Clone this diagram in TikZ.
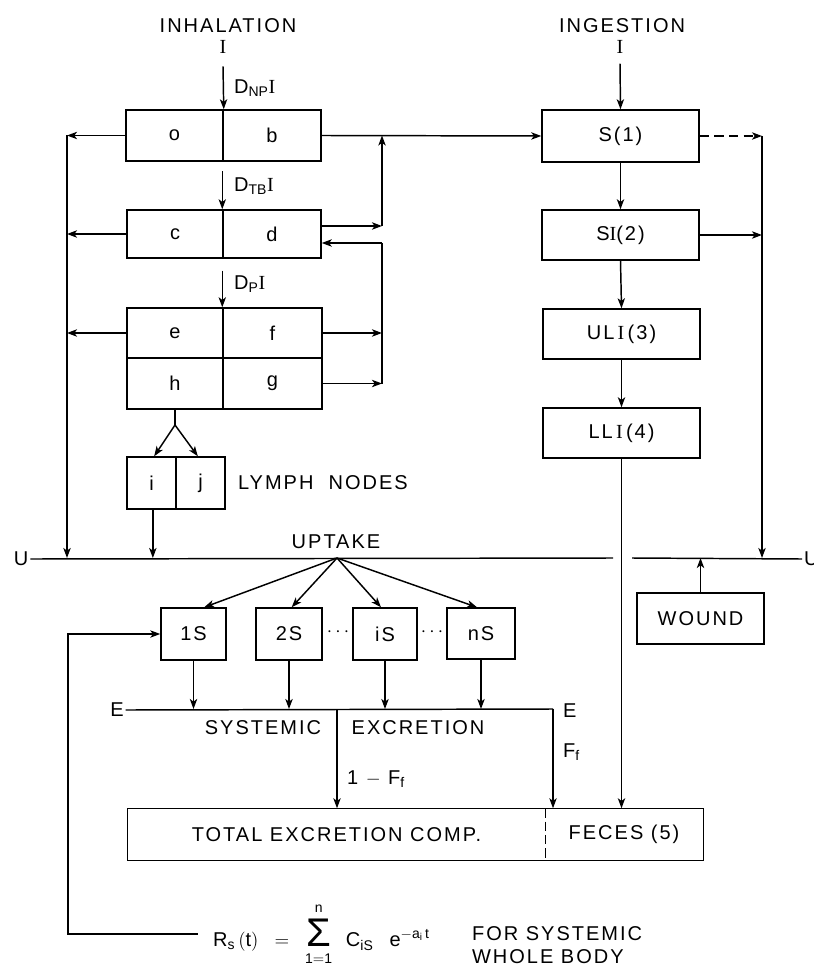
\documentclass[tikz,border=0pt]{standalone}
\usepackage{fontspec}
\setmainfont[LetterSpace=10]{Liberation Sans}
\setsansfont[LetterSpace=10]{Liberation Sans}
\newfontfamily\serI{Liberation Serif}
\newfontfamily\sigfont{Liberation Sans}
\usetikzlibrary{arrows.meta}
\newcommand\sI{{\serI I}}
\newcommand\bigsig{\mathop{\mbox{\sigfont\fontsize{30}{30}\selectfont Σ}}}
\newcommand\cell[6]{\node[box, minimum width={(#4-#2)*0.75pt}, minimum height={(#5-#3)*0.75pt}] (#1) at ({(#2+#4)/2},{(#3+#5)/2}) {#6};}
\begin{document}
\begin{tikzpicture}[x=0.75pt,y=-0.75pt, line width=1.1pt,
  arr/.style={-{Stealth[length=7.5pt,width=5.5pt,inset=2pt]}},
  lbl/.style={font=\fontsize{15}{17}\selectfont, inner sep=1pt},
  box/.style={draw, inner sep=0pt, font=\fontsize{15}{17}\selectfont}]
\useasboundingbox (0,0) rectangle (813,969);

% ---- inhalation column
\node[lbl] (inh) at (228,26) {INHALATION};
\node[lbl] (inI) at (223,47) {\sI};
\cell{a}{126}{110}{223}{161}{o}
\cell{b}{223}{110}{321}{161}{b}
\cell{c}{127}{210}{223}{258}{c}
\cell{d}{223}{210}{321}{258}{d}
\cell{e}{127}{308}{223}{358}{e}
\cell{f}{223}{308}{322}{358}{f}
\cell{h}{127}{358}{223}{409}{h}
\cell{g}{223}{358}{322}{409}{g}
\cell{i}{127}{457}{176}{509}{i}
\cell{j}{176}{457}{225}{509}{j}
\node[lbl, anchor=west] (lymph) at (236,483) {LYMPH\ \ NODES};

\draw[arr] ([yshift=-8pt]inI.south) -- (a.north east);
\node[lbl, anchor=west] (dnp) at (232,88) {$\mathrm{D_{NP}}$\sI};
\draw[arr] ([yshift=-7pt]b.south west) -- (d.north west);
\node[lbl, anchor=west] (dtb) at (232,186) {$\mathrm{D_{TB}}$\sI};
\draw[arr] ([yshift=-9pt]d.south west) -- (f.north west);
\node[lbl, anchor=west] (dp) at (232,284) {$\mathrm{D_{P}}$\sI};

% left collector
\coordinate (Lx) at (67,558);
\draw[arr] (a.west) -- (a.west -| Lx);
\draw[arr] (c.west) -- (c.west -| Lx);
\draw[arr] (e.west) -- (e.west -| Lx);
\draw[arr] (a.west -| Lx) -- (Lx);

% right loop
\coordinate (R1) at (382,226);
\coordinate (R2) at (382,243);
\draw[arr] (d.east |- R1) -- (R1);
\draw[arr] (R1) -- (R1 |- b.east);
\draw[arr] (R2) -- (d.east |- R2);
\draw (R2) -- (R2 |- g.east);
\draw[arr] (f.east) -- (f.east -| R2);
\draw[arr] (g.east) -- (g.east -| R2);

% lymph fork
\coordinate (fork) at (175,425);
\draw (h.south) -- (fork);
\draw[arr] (fork) -- ([xshift=2pt]i.north);
\draw[arr] (fork) -- ([xshift=-2pt]j.north);
\draw[arr] ([xshift=1pt]i.south) -- ([xshift=1pt]i.south |- Lx);

% ---- ingestion column
\node[lbl] (ing) at (622,26) {INGESTION};
\node[lbl] (ingI) at (620,47) {\sI};
\cell{S1}{542}{110}{699}{162}{S(1)}
\cell{SI2}{542}{210}{699}{260}{S\sI(2)}
\cell{ULI}{543}{309}{700}{359}{UL\,\sI\,(3)}
\cell{LLI}{543}{408}{700}{458}{LL\,\sI\,(4)}
\draw[arr] ([yshift=-6pt]ingI.south) -- (S1.north);
\draw[arr] (b.east) -- (S1.west);
\draw[arr] (S1.south) -- (SI2.north);
\draw[arr] (SI2.south) -- (ULI.north);
\draw[arr] (ULI.south) -- (LLI.north);

\coordinate (Rr) at (762,136);
\draw[arr, dash pattern=on 7pt off 4pt] (S1.east) -- (Rr);
\draw[arr] (SI2.east) -- (SI2.east -| Rr);
\draw[arr] (Rr) -- (Rr |- Lx);

% ---- uptake line
\node[lbl] (U1) at (21,559) {U};
\coordinate (Ug1) at (613,558);
\coordinate (Ug2) at (632,558);
\draw (U1.east) -- (Ug1);
\node[lbl, anchor=west] (U2) at (802,559) {U};
\draw (Ug2) -- (U2.west);
\node[lbl] (upt) at (336,542) {UPTAKE};
\coordinate (fan) at (337,558);

\cell{wound}{637}{593}{764}{644}{WOUND}
\draw[arr] (wound.north) -- (wound.north |- Lx);

% ---- systemic compartments
\cell{s1}{161}{608}{226}{660}{1S}
\cell{s2}{256}{608}{322}{660}{2S}
\cell{si}{353}{608}{417}{660}{iS}
\cell{sn}{447}{608}{515}{659}{nS}
\node[lbl] (dots1) at (338,632) {$\cdots$};
\node[lbl] (dots2) at (432,632) {$\cdots$};
\draw[arr] (fan) -- ([xshift=8pt]s1.north);
\draw[arr] (fan) -- ([xshift=2pt]s2.north);
\draw[arr] (fan) -- ([xshift=-3pt]si.north);
\draw[arr] (fan) -- ([xshift=-3pt]sn.north);

% ---- excretion line
\node[lbl] (E1) at (117,710) {E};
\coordinate (Eend) at (553,709);
\coordinate (Emid) at (337,709);
\draw (E1.east) -- (Eend);
\draw[arr] (s1.south) -- (s1.south |- Eend);
\draw[arr] (s2.south) -- (s2.south |- Eend);
\draw[arr] (si.south) -- (si.south |- Eend);
\draw[arr] (sn.south) -- (sn.south |- Eend);
\node[lbl] (sys) at (263,728) {SYSTEMIC};
\node[lbl] (exc) at (418,728) {EXCRETION};
\node[lbl, anchor=west] (E2) at (561,711) {E};
\node[lbl, anchor=west] (Ff) at (561,752) {$\mathrm{F_f}$};
\node[lbl, anchor=west] (omf) at (345,779) {1 $-$ $\mathrm{F_f}$};

% ---- total excretion / feces
\node[lbl, minimum width={(545-128)*0.75pt}, minimum height={(860-809)*0.75pt}, inner sep=0pt] (tot) at ({(128+545)/2},{(809+860)/2}) {TOTAL EXCRETION COMP.};
\node[lbl, minimum width={(703-545)*0.75pt}, minimum height={(860-809)*0.75pt}, inner sep=0pt] (fec) at ({(545+703)/2},{(809+860)/2}) {FECES (5)};
\draw (tot.north east) -- (tot.north west) -- (tot.south west) -- (tot.south east);
\draw (fec.north west) -- (fec.north east) -- (fec.south east) -- (fec.south west);
\draw[dash pattern=on 7pt off 3pt] (tot.north east) -- (tot.south east);
\draw[arr] (Emid) -- (Emid |- tot.north);
\draw[arr] (Eend) -- (Eend |- fec.north);
\draw[arr] (LLI.south) -- (LLI.south |- fec.north);

% ---- retention formula and feedback
\node[anchor=west, inner sep=1pt, font=\fontsize{15}{17}\selectfont] (Rs) at (211,934) {$\displaystyle \mathrm{R_s\,(t)}\;\; = \;\;\bigsig\limits^{\mathrm{n}\rule[-4pt]{0pt}{0pt}}_{\rule{0pt}{11pt}\mathrm{1=1}}\;\; \mathrm{C_{iS}}\;\;\; \mathrm{e}^{-\mathrm{a_i\, t}}$};
\node[lbl, anchor=west] (fsys) at (470,934) {FOR SYSTEMIC};
\node[lbl, anchor=west] (wb) at (470,957) {WHOLE BODY};
\coordinate (fb) at (68,934);
\draw[arr] ([xshift=-10pt]Rs.west |- fb) -- (fb) -- (fb |- s1.west) -- (s1.west);
\end{tikzpicture}
\end{document}
